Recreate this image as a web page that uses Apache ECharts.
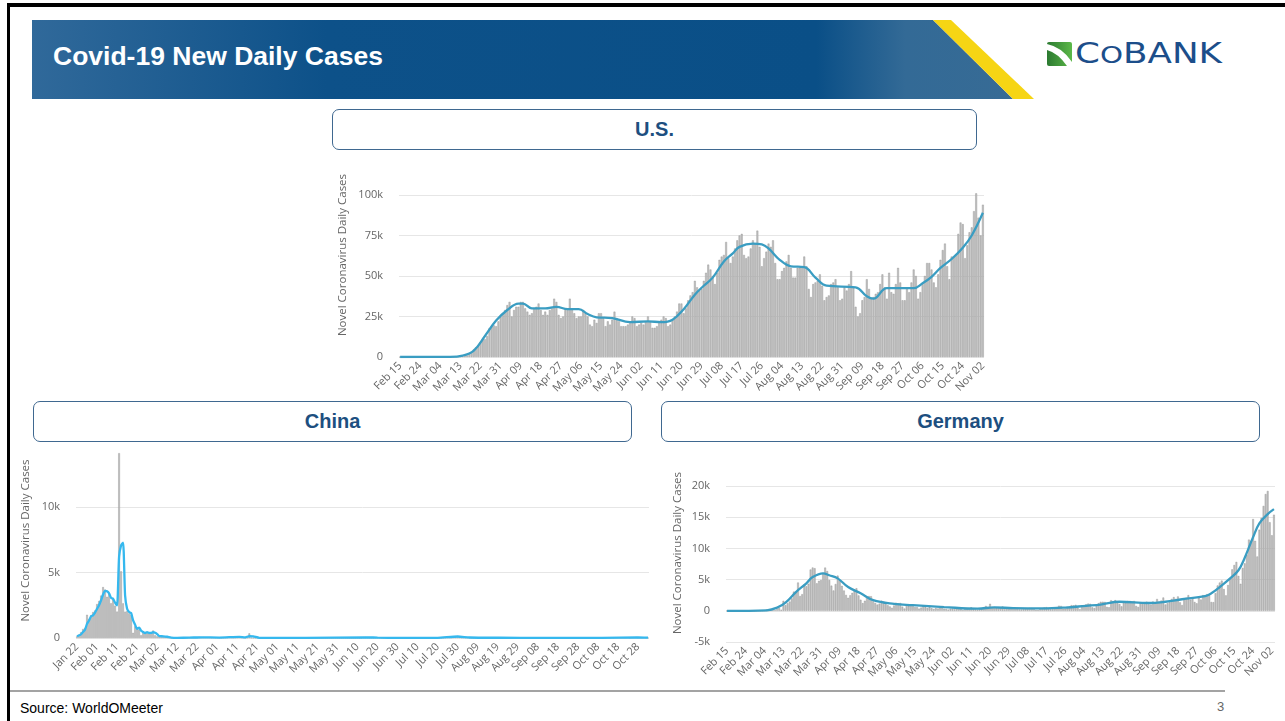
<!DOCTYPE html>
<html>
<head>
<meta charset="utf-8">
<script src="https://cdn.jsdelivr.net/npm/echarts@6/dist/echarts.min.js"></script>
<style>
body { margin: 0; background: #fff; font-family: "Liberation Sans", Arial, sans-serif; }
#page { position: relative; width: 1285px; height: 721px; overflow: hidden; background: #fff; }
.frame { position: absolute; left: 7px; top: 3px; width: 1400px; height: 800px; border-left: 3px solid #000; border-top: 4px solid #000; }
.box { position: absolute; height: 41px; box-sizing: border-box; border: 1px solid #3f6890; border-radius: 7px;
       text-align: center; line-height: 39px; font-weight: bold; font-size: 20px; color: #1d4f80; background: #fff; }
.title { position: absolute; left: 53px; top: 41px; color: #fff; font-weight: bold; font-size: 26.5px; }
.foot { position: absolute; left: 10px; top: 690px; width: 1215px; height: 2px; background: #a3a3a3; }
.src { position: absolute; left: 20px; top: 700px; font-size: 14px; color: #000; }
.pg { position: absolute; left: 1217px; top: 699px; font-size: 13px; color: #666; }
#chart { position: absolute; left: 0; top: 0; width: 1285px; height: 721px; }
</style>
</head>
<body>
<div id="page">
  <div class="frame"></div>
  <svg style="position:absolute;left:0;top:0" width="1285" height="110">
    <defs>
      <linearGradient id="band" x1="0" x2="1" y1="0" y2="0">
        <stop offset="0" stop-color="#30699a"/>
        <stop offset="0.3" stop-color="#0d5189"/>
        <stop offset="0.8" stop-color="#0a4f87"/>
        <stop offset="0.89" stop-color="#336a96"/>
        <stop offset="1" stop-color="#376b95"/>
      </linearGradient>
      <linearGradient id="leaf" x1="0" x2="1" y1="0" y2="0">
        <stop offset="0" stop-color="#2c7a31"/>
        <stop offset="1" stop-color="#5cb848"/>
      </linearGradient>
    </defs>
    <polygon points="32,20 933,20 1013,99 32,99" fill="url(#band)"/>
    <polygon points="933,20 951,20 1034,99 1013,99" fill="#f6d514"/>
    <rect x="1047" y="42" width="25" height="24" rx="2" fill="url(#leaf)"/>
    <path d="M1047,44 Q1062,47 1072,62 L1072,66 L1067,66 Q1058,53 1047,50 Z" fill="#fff"/>
    <text x="1075" y="63" font-family="DejaVu Sans" font-size="28" fill="#1c4e8a" textLength="147" lengthAdjust="spacingAndGlyphs">C<tspan font-size="23">O</tspan>BANK</text>
  </svg>
  <div class="title">Covid-19 New Daily Cases</div>
  <div class="box" style="left:332px;top:109px;width:645px">U.S.</div>
  <div class="box" style="left:33px;top:401px;width:599px">China</div>
  <div class="box" style="left:661px;top:401px;width:599px">Germany</div>
  <div class="foot"></div>
  <div class="src">Source: WorldOMeeter</div>
  <div class="pg">3</div>
  <div id="chart"></div>
</div>
<script>

const MONTHS = ['Jan','Feb','Mar','Apr','May','Jun','Jul','Aug','Sep','Oct','Nov','Dec'];

// U.S. daily new cases, Feb 15 - Nov 02
const usStart = '2020-02-15';
const usCases = [
  0,0,0,0,0,0,0,0,0,0,0,10,5,10,20,
  20,25,20,30,70,60,100,120,200,300,400,450,550,700,800,900,1800,2900,4800,6000,7000,9000,11000,11000,13000,17800,18600,19500,19000,22000,25000,
  27000,29000,32000,34000,25000,29000,31000,31000,34000,34000,30000,28000,26000,27000,30000,31000,33000,29000,26000,28000,26000,29000,30000,36000,34000,26000,24000,25000,29000,30000,
  36000,29000,27000,24000,25000,25000,29000,27000,25000,20000,19000,23000,21000,27000,27000,24000,19000,22000,20000,23000,28000,24000,22000,19000,19000,19000,20000,22000,25000,24000,19000,
  20000,21000,20000,22000,25000,22000,18000,18000,19000,21000,23000,25000,24000,19000,20000,23000,25000,28000,33000,33000,27000,30000,35000,38000,40000,47000,43000,41000,42000,47000,
  52000,57000,54000,50000,45000,52000,60000,62000,63000,71000,61000,58000,62000,67000,72000,75000,76000,63000,61000,62000,67000,72000,70000,78000,68000,56000,61000,65000,70000,68000,72000,
  58000,48000,48000,53000,55000,59000,63000,55000,49000,49000,55000,55000,56000,62000,56000,42000,37000,45000,46000,47000,51000,44000,35000,37000,38000,45000,46000,48000,43000,35000,36000,
  43000,41000,45000,53000,43000,31000,25000,27000,35000,37000,48000,42000,36000,37000,39000,40000,45000,51000,43000,36000,52000,40000,39000,45000,55000,46000,35000,35000,43000,40000,
  46000,54000,50000,36000,40000,45000,50000,58000,58000,54000,46000,43000,51000,60000,66000,70000,56000,48000,62000,62000,63000,76000,83000,82000,61000,69000,77000,80000,90000,101000,86000,
  75000,94000
];
const usAvg = [
  ['Feb 15',0],['Mar 08',100],['Mar 14',900],['Mar 19',4000],['Mar 24',13000],['Mar 29',22500],['Apr 03',29000],
  ['Apr 08',33000],['Apr 10',33000],['Apr 14',30000],['Apr 20',30000],['Apr 25',31000],['Apr 30',29500],['May 05',29500],
  ['May 09',26500],['May 13',24500],['May 20',24000],['May 28',21500],['Jun 05',22000],['Jun 11',21500],['Jun 16',23000],
  ['Jun 21',29500],['Jun 26',38500],['Jun 30',44000],['Jul 04',49000],['Jul 09',59000],['Jul 13',64000],['Jul 16',68000],
  ['Jul 22',70000],['Jul 26',69500],['Jul 29',67000],['Aug 03',60000],['Aug 08',56000],['Aug 14',55500],['Aug 19',49000],
  ['Aug 24',44000],['Sep 06',43000],['Sep 11',37500],['Sep 14',36000],['Sep 20',42500],['Oct 02',42500],['Oct 06',45500],
  ['Oct 10',49500],['Oct 14',55000],['Oct 19',60500],['Oct 24',67500],['Oct 28',75000],['Nov 02',89000]
];

// China daily new cases, Jan 22 - Nov 02
const cnStart = '2020-01-22';
const cnCases = [
  131,259,444,688,769,1771,1459,1737,1981,2099,
  2589,2825,3235,3884,3694,3143,3385,2652,2973,2467,2015,14108,5090,2641,2008,2048,1888,1749,391,889,823,648,214,508,406,433,327,427,573,
  202,125,119,139,143,99,44,40,19,24,15,8,11,20,16,21,13,34,39,41,46,39,78,47,67,55,54,45,31,48,36,
  35,31,19,30,39,32,62,63,42,46,99,108,89,46,26,27,352,16,12,11,30,10,10,12,11,3,6,22,4,12,
  2,1,3,1,1,2,4,1,14,5,17,7,3,8,4,5,7,6,6,2,4,0,3,11,7,1,2,4,2,4,2,
  5,1,7,7,5,4,4,3,3,11,7,11,57,57,49,40,44,25,32,26,25,22,12,19,13,17,12,12,19,3,
  3,5,3,8,7,2,7,4,6,10,7,8,3,3,5,11,16,22,22,14,14,22,23,34,46,61,68,101,105,127,123,
  45,49,36,43,27,37,25,23,35,44,25,24,19,16,22,17,22,15,16,21,22,29,18,15,10,24,9,7,9,9,10,
  5,10,11,18,9,10,10,6,7,8,7,10,12,14,14,7,32,9,14,10,12,12,6,7,7,24,10,21,14,14,
  26,8,10,16,16,12,20,11,17,21,13,10,37,19,24,9,14,24,15,19,16,18,36,13,28,42,69,30,46,40,42,
  24,23
];
const cnAvg = [
  ['Jan 22',130],['Jan 24',280],['Jan 25',460],['Jan 26',630],['Jan 27',1080],['Jan 28',1330],['Jan 29',1650],['Jan 30',1730],
  ['Jan 31',1940],['Feb 01',2220],['Feb 02',2500],['Feb 03',2880],['Feb 04',3320],['Feb 05',3600],['Feb 06',3570],['Feb 07',3410],
  ['Feb 08',3060],['Feb 09',3000],['Feb 10',2700],['Feb 11',2490],['Feb 12',6200],['Feb 13',7070],['Feb 14',7280],['Feb 15',3250],
  ['Feb 16',2230],['Feb 17',1980],['Feb 18',1900],['Feb 19',1340],['Feb 20',1010],['Feb 21',700],['Feb 22',790],['Feb 23',560],
  ['Feb 24',460],['Feb 25',380],['Feb 26',450],['Feb 27',390],['Feb 28',400],['Feb 29',440],['Mar 01',400],['Mar 02',300],
  ['Mar 03',150],['Mar 05',130],['Mar 07',95],['Mar 09',35],['Mar 12',16],['Mar 18',25],['Mar 24',55],['Apr 02',35],
  ['Apr 12',90],['Apr 15',50],['Apr 17',135],['Apr 19',125],['Apr 22',15],['May 15',5],['Jun 14',52],['Jun 20',28],
  ['Jul 01',5],['Jul 20',17],['Jul 30',115],['Aug 05',38],['Aug 20',19],['Sep 10',9],['Oct 10',16],['Oct 28',45],['Nov 02',24]
];

// Germany daily new cases, Feb 15 - Nov 03
const deStart = '2020-02-15';
const deCases = [
  0,0,0,0,0,0,0,0,0,0,2,6,18,10,13,
  51,29,37,66,220,188,129,241,136,281,451,170,1597,910,1210,1477,1985,3070,2993,4528,2365,2660,4183,3930,4337,6615,6933,6824,4400,4790,4923,
  6064,6922,6365,4933,4031,3251,4289,5633,4885,3990,3251,2537,2082,2486,2866,3380,3609,2458,1775,1226,1606,2237,2352,2337,1514,1257,988,1154,1627,1470,
  1068,890,697,488,854,1284,1209,1251,667,357,933,798,933,913,620,583,342,513,797,624,460,638,431,289,432,362,496,741,333,286,183,
  333,342,242,394,405,301,136,350,318,397,555,348,247,192,378,345,580,770,601,1120,600,537,503,587,477,687,256,262,466,442,
  445,464,422,239,227,397,298,398,442,422,378,159,159,348,430,534,583,399,252,250,454,569,815,781,305,340,633,684,902,870,955,
  509,240,879,741,1045,1147,1122,555,436,966,1226,1445,1449,1415,625,561,1693,1510,1707,1427,1094,711,1507,1278,1576,1571,1479,1571,777,610,1218,
  1256,1336,1453,1045,1002,1485,1257,1892,1484,1637,2125,1005,1210,1407,1901,2194,1916,2297,1345,922,1821,2063,2507,1787,2153,1411,1192,2089,1798,2503,
  2500,2673,2563,1411,1382,2828,4058,4516,4830,3483,2467,4122,5132,6638,7334,7830,5587,4325,6868,7595,9000,11400,11200,14700,11200,8700,13000,14900,16800,18700,19200,
  14200,12100,15400
];
const deAvg = [
  ['Feb 15',0],['Mar 05',80],['Mar 10',500],['Mar 14',1300],['Mar 19',3000],['Mar 24',4400],['Mar 27',5400],['Apr 01',6000],
  ['Apr 04',5700],['Apr 08',5200],['Apr 13',3800],['Apr 19',2800],['Apr 25',1700],['May 05',1100],['May 14',900],['May 29',600],
  ['Jun 14',350],['Jun 22',550],['Jul 01',430],['Jul 15',380],['Jul 26',520],['Aug 05',800],['Aug 12',1000],['Aug 21',1450],
  ['Sep 04',1250],['Sep 12',1450],['Sep 20',1850],['Oct 01',2350],['Oct 04',2800],['Oct 08',3800],['Oct 13',5200],['Oct 17',6500],
  ['Oct 20',8500],['Oct 24',11800],['Oct 27',14000],['Oct 31',15500],['Nov 03',16300]
];

function dayLabels(start, n) {
  const out = [];
  const d = new Date(start + 'T00:00:00Z');
  for (let i = 0; i < n; i++) {
    out.push(MONTHS[d.getUTCMonth()] + ' ' + String(d.getUTCDate()).padStart(2, '0'));
    d.setUTCDate(d.getUTCDate() + 1);
  }
  return out;
}

function kFmt(v) { return v === 0 ? '0' : (v / 1000) + 'k'; }

const axisFont = { color: '#666', fontSize: 11, fontFamily: 'Open Sans' };

function xAx(i, cats, every) {
  return {
    gridIndex: i, type: 'category', data: cats,
    axisLine: { show: false }, axisTick: { show: false },
    axisLabel: Object.assign({ interval: every - 1, rotate: 45, margin: 7 }, axisFont)
  };
}

function yAx(i, min, max, step, gap, pad) {
  return {
    gridIndex: i, type: 'value', min: min, max: max, interval: step,
    name: 'Novel Coronavirus Daily Cases', nameLocation: 'middle', nameGap: gap,
    nameTextStyle: { color: '#666', fontSize: 11.5, fontFamily: 'Open Sans', padding: [0, 0, 0, pad] },
    axisLine: { show: false }, axisTick: { show: false },
    axisLabel: Object.assign({ margin: 16, formatter: kFmt }, axisFont),
    splitLine: { lineStyle: { color: '#e6e6e6' } }
  };
}

function barS(i, data) {
  return {
    type: 'bar', xAxisIndex: i, yAxisIndex: i, data: data, clip: false,
    barCategoryGap: '18%',
    itemStyle: { color: '#c2c2c2', borderColor: '#8e8e8e', borderWidth: 0.4 }
  };
}

function lineS(i, data, color, smooth) {
  return {
    type: 'line', xAxisIndex: i, yAxisIndex: i, data: data, smooth: smooth,
    showSymbol: false, z: 5, lineStyle: { color: color, width: 2.3 }, itemStyle: { color: color }
  };
}

const chart = echarts.init(document.getElementById('chart'));

option = {
  animation: false,
  backgroundColor: 'transparent',
  grid: [
    { left: 399, top: 195, width: 585, height: 162 },
    { left: 76, top: 507, width: 573, height: 131 },
    { left: 726, top: 486, width: 549, height: 156 }
  ],
  xAxis: [
    xAx(0, dayLabels(usStart, usCases.length), 9),
    xAx(1, dayLabels(cnStart, cnCases.length), 10),
    xAx(2, dayLabels(deStart, deCases.length), 9)
  ],
  yAxis: [
    yAx(0, 0, 100000, 25000, 50, 42),
    yAx(1, 0, 10000, 5000, 44, 64),
    yAx(2, -5000, 20000, 5000, 42, 22)
  ],
  series: [
    barS(0, usCases), lineS(0, usAvg, '#3a9dc2', 0.4),
    barS(1, cnCases), lineS(1, cnAvg, '#35b8ee', 0.2),
    barS(2, deCases), lineS(2, deAvg, '#3a9dc2', 0.4)
  ]
};

chart.setOption(option);
</script>
</body>
</html>
